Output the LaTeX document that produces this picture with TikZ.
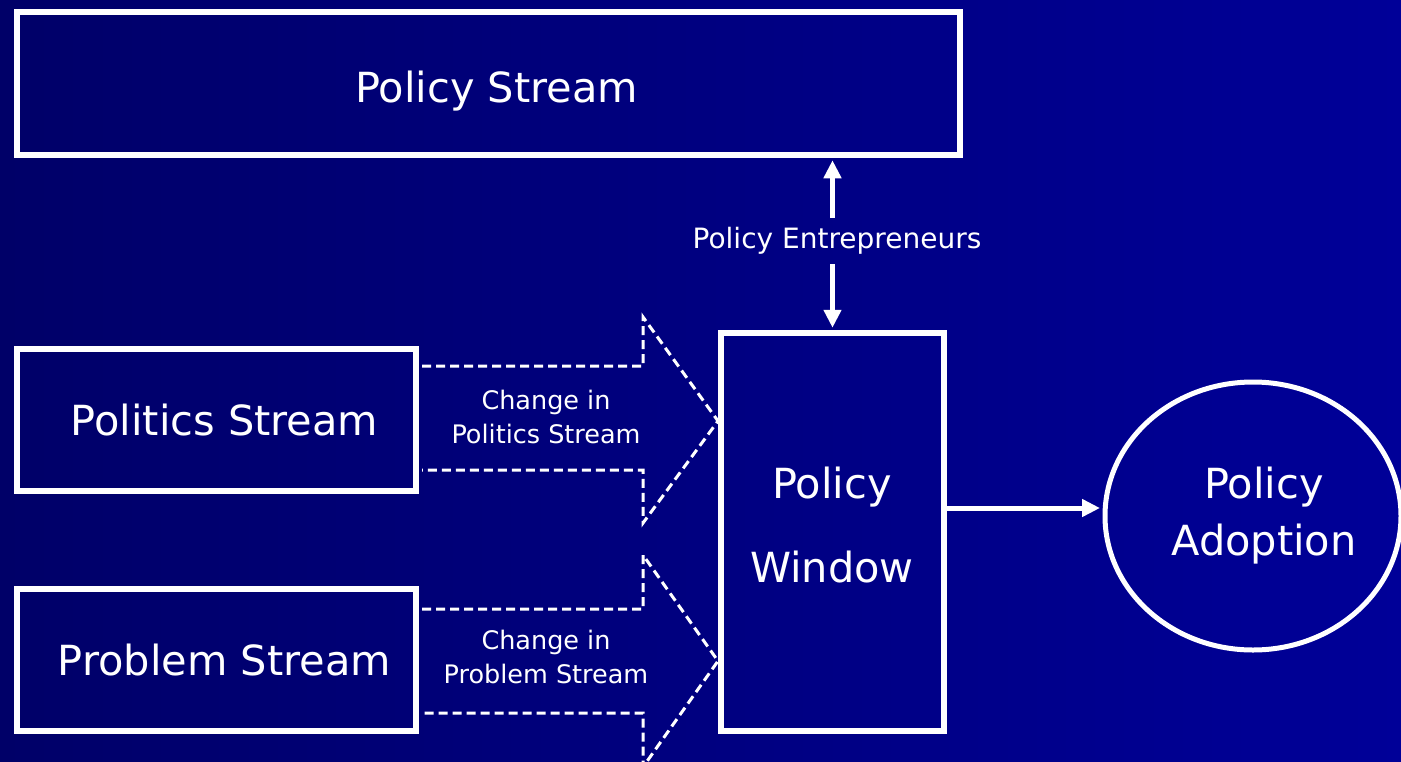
\documentclass[tikz,border=0pt]{standalone}
\usepackage{fontspec}
\setmainfont{DejaVu Sans}
\usetikzlibrary{arrows.meta,shapes.geometric,calc}
\definecolor{bgl}{RGB}{0,0,104}
\definecolor{bgr}{RGB}{0,0,152}
\begin{document}
\begin{tikzpicture}[x=1pt,y=-1pt,
  box/.style={draw=white,line width=5.5pt,rectangle,inner sep=0pt,text=white},
  big/.style={font=\fontsize{41.5}{48}\selectfont},
  txt/.style={text=white,align=center,inner sep=0pt},
  small/.style={font=\fontsize{25.5}{34}\selectfont,text=white,align=center,inner sep=0pt},
  dashedge/.style={draw=white,line width=3pt,dash pattern=on 9pt off 5pt},
  arr/.style={draw=white,line width=5pt,-{Triangle[length=18pt,width=17pt]}}
]
\useasboundingbox (0,0) rectangle (1401,761);
\shade[left color=bgl,right color=bgr] (0,0) rectangle (1401,761);

% boxes
\node[box,minimum width=943pt,minimum height=143pt] (pstream) at (488.5,83.5) {};
\node[txt,big] (pstext) at (496.5,91) {Policy Stream};
\node[box,big,minimum width=399pt,minimum height=142pt] (politics) at (216.5,420) {\hspace*{16pt}Politics Stream};
\node[box,big,minimum width=399pt,minimum height=142pt] (problem) at (216.5,660) {\hspace*{16pt}Problem Stream};
\node[box,minimum width=223pt,minimum height=398pt] (win) at (832.5,532) {};
\node[txt,font=\fontsize{41.5}{84}\selectfont] (wintext) at (832,525) {Policy\\Window};
\node[draw=white,line width=5pt,ellipse,inner sep=0pt,text=white,minimum width=296pt,minimum height=268pt,align=center,font=\fontsize{41.5}{57}\selectfont] (adopt) at (1253,516) {\hspace*{22pt}Policy\\\hspace*{22pt}Adoption};

% dashed block arrows
\draw[dashedge] (422,366) -- (643,366) -- (643,317) -- (718,421) -- (643,523) -- (643,470) -- (422,470);
\draw[dashedge] (422,609) -- (643,609) -- (643,555) -- (718,661) -- (643,767) -- (643,713) -- (422,713);
\node[small] (lpol) at (546,417) {Change in\\Politics Stream};
\node[small] (lprob) at (546,657) {Change in\\Problem Stream};

% policy entrepreneurs
\node[small,font=\fontsize{28}{30}\selectfont,minimum height=46pt] (pe) at (837,241) {Policy Entrepreneurs};
\draw[arr,shorten >=2.5pt] (pe.north -| win.north) -- (pstream.south -| win.north);
\draw[arr,shorten >=2.5pt] (pe.south -| win.north) -- (win.north);

% window to adoption
\draw[arr,shorten >=2.5pt] ($(win.east)+(0,-24)$) -- ($(adopt.west)+(0,-8)$);
\end{tikzpicture}
\end{document}
